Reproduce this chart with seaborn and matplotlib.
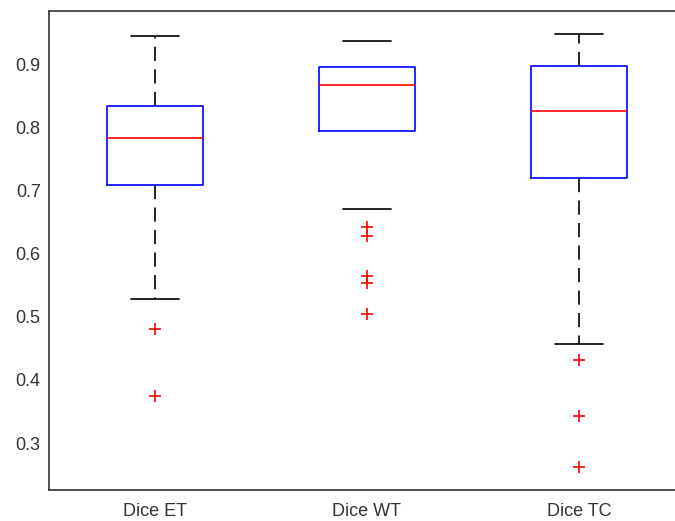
import matplotlib
matplotlib.use("Agg")
import matplotlib.pyplot as plt
import seaborn as sns
import pandas as pd

# box statistics
labels = ["Dice ET", "Dice WT", "Dice TC"]
whisker_low = [0.528, 0.670, 0.457]
q1 = [0.708, 0.794, 0.719]
median = [0.783, 0.867, 0.825]
q3 = [0.834, 0.895, 0.897]
whisker_high = [0.944, 0.937, 0.948]

# outliers
out_group = ["Dice ET", "Dice ET",
             "Dice WT", "Dice WT", "Dice WT", "Dice WT", "Dice WT",
             "Dice TC", "Dice TC", "Dice TC"]
out_value = [0.480, 0.374,
             0.642, 0.628, 0.565, 0.553, 0.504,
             0.432, 0.343, 0.262]

sns.set_style("white")
plt.rcParams['font.family'] = ['Liberation Sans', 'DejaVu Sans']

fig = plt.figure(figsize=(6.75, 5.21), dpi=100)
ax = fig.add_axes([49 / 675, 31 / 521, 636 / 675, 479 / 521])

stats = []
for i, lab in enumerate(labels):
    stats.append({"label": lab, "whislo": whisker_low[i], "q1": q1[i],
                  "med": median[i], "q3": q3[i], "whishi": whisker_high[i],
                  "fliers": []})

parts = ax.bxp(stats, positions=[0, 1, 2], widths=0.45, showfliers=False,
               boxprops=dict(color="blue", linewidth=1.2),
               medianprops=dict(color="red", linewidth=1.2),
               whiskerprops=dict(color="black", linestyle=(0, (8.5, 5)),
                                 linewidth=1.2),
               capprops=dict(color="black", linewidth=1.2),
               capwidths=0.23)
# the WT whiskers don't show in the original
parts["whiskers"][2].set_visible(False)
parts["whiskers"][3].set_visible(False)

df = pd.DataFrame({"group": out_group, "value": out_value})
df["pos"] = df["group"].map({lab: i for i, lab in enumerate(labels)})
sns.scatterplot(data=df, x="pos", y="value", marker="+", color="red",
                s=70, linewidth=1.2, ax=ax, legend=False)

ax.set_xlim(-0.5, 2.5)
ax.set_ylim(0.2256, 0.984)
ax.set_xticks([0, 1, 2])
ax.set_xticklabels(labels)
ax.set_yticks([0.3, 0.4, 0.5, 0.6, 0.7, 0.8, 0.9])
ax.set_xlabel("")
ax.set_ylabel("")
ax.tick_params(direction="in", length=5, width=1, colors="#333333")
ax.tick_params(axis="x", labelsize=13, pad=9)
ax.tick_params(axis="y", labelsize=13, pad=6)
for sp in ax.spines.values():
    sp.set_color("#333333")
    sp.set_linewidth(1.2)
ax.spines["right"].set_visible(False)

fig.savefig("out.png", dpi=100)
